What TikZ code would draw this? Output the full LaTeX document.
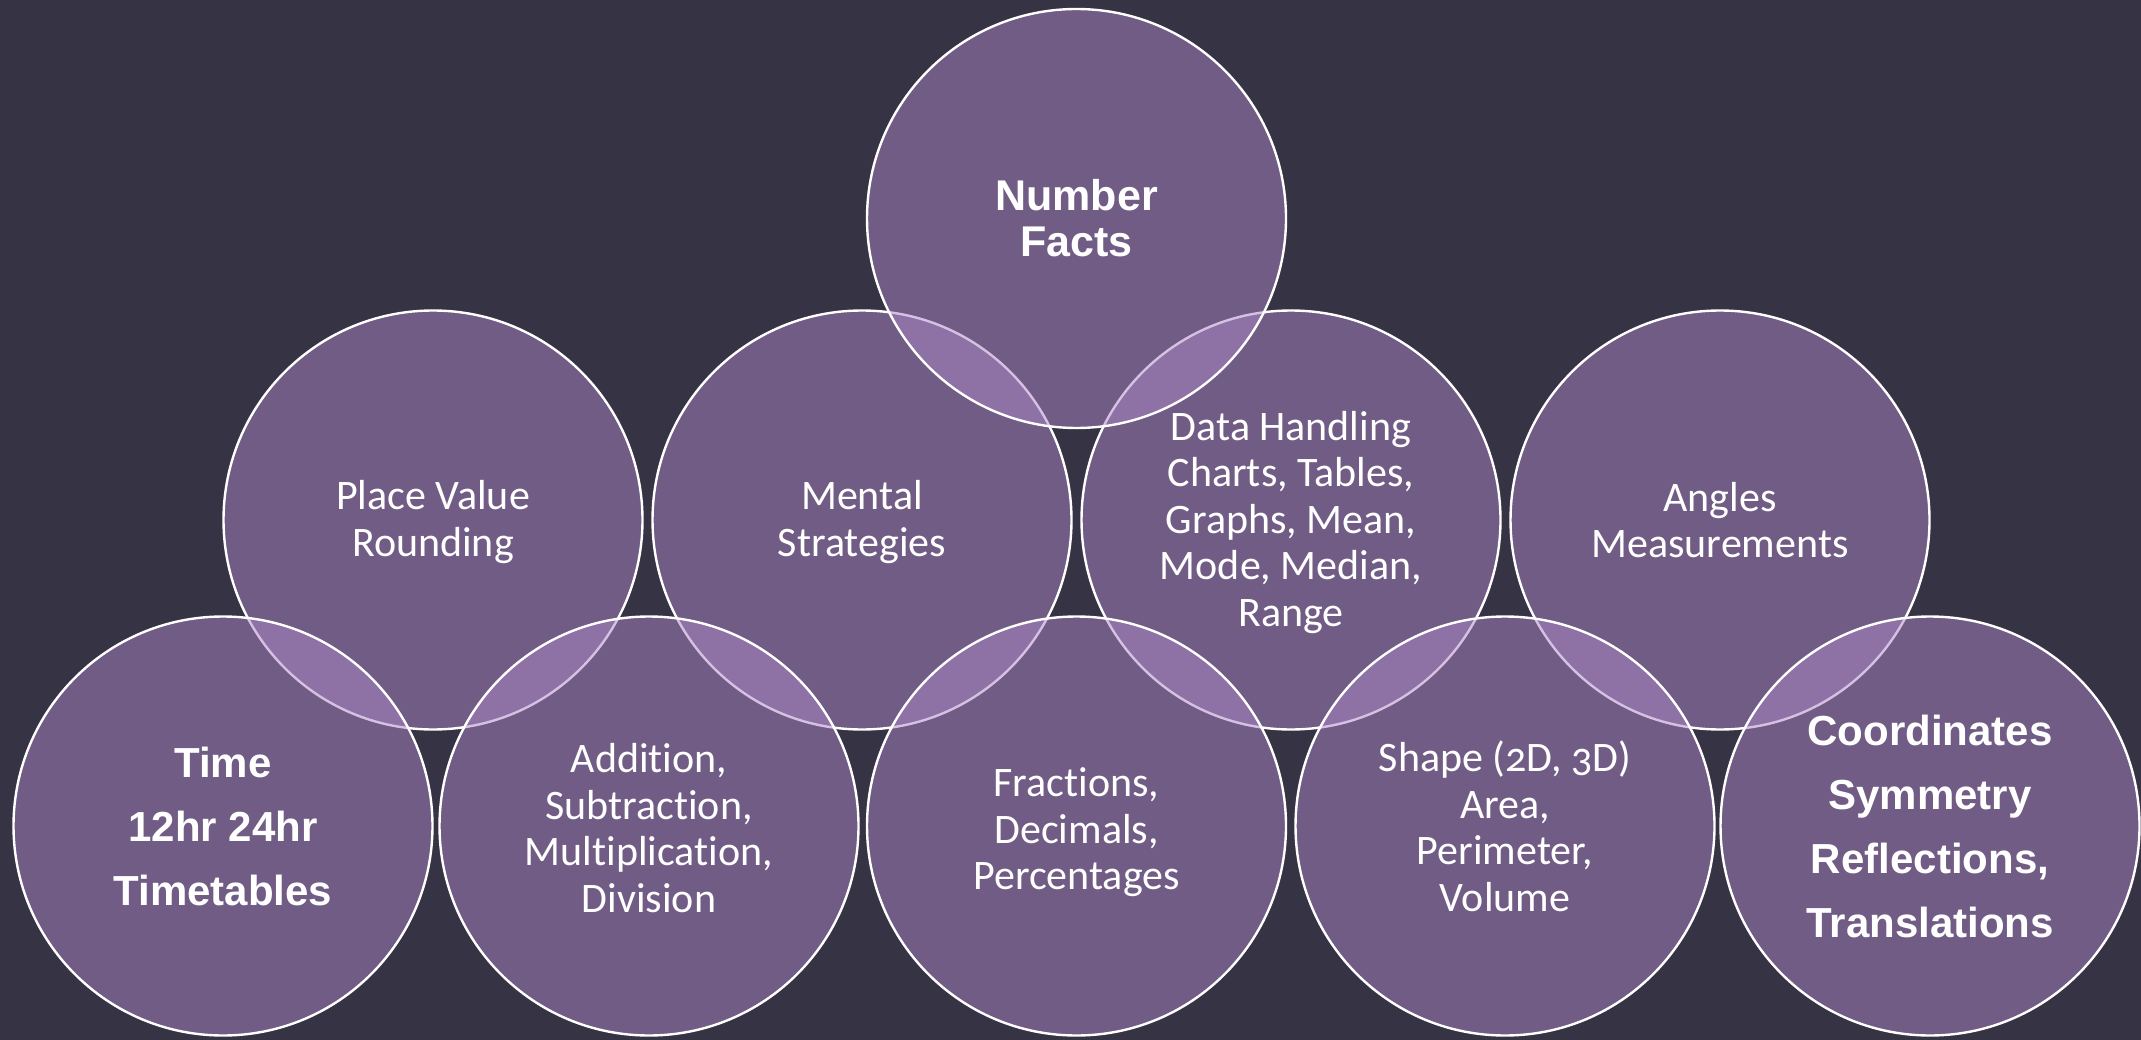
\documentclass[tikz,border=0pt]{standalone}
\usepackage{fontspec}
\setmainfont{Carlito}[Numbers=OldStyle, Ligatures=NoCommon]
\newfontfamily\arialb{Liberation Sans}[BoldFont={* Bold}]
\definecolor{bgc}{HTML}{363344}
\definecolor{circc}{HTML}{AC86C6}
\newcommand{\topstrut}[1]{\rule{0pt}{#1pt}}
\tikzset{
  bubble/.style={circle, minimum size=419pt, inner sep=0pt, draw=white, line width=2.4pt,
    fill=circc, fill opacity=0.5, text opacity=1, text=white, align=center},
  regtext/.style={font=\fontsize{42}{46.5}\selectfont},
  boldtext/.style={font=\arialb\bfseries\fontsize{43}{46}\selectfont},
  boldwide/.style={font=\arialb\bfseries\fontsize{42}{64}\selectfont}
}
\begin{document}
\begin{tikzpicture}[x=1pt,y=-1pt]
\fill[bgc] (0,0) rectangle (2141,1040);
\useasboundingbox (0,0) rectangle (2141,1040);
% middle row
\node[bubble,regtext] (pv) at (433,520) {\topstrut{33.5}Place Value\\Rounding};
\node[bubble,regtext] (ms) at (862,520) {\topstrut{33.5}Mental\\Strategies};
\node[bubble,regtext] (dh) at (1291,520) {\topstrut{33.5}Data Handling\\Charts, Tables,\\Graphs, Mean,\\Mode, Median,\\Range};
\node[bubble,regtext] (an) at (1720,520) {Angles\\Measurements};
% top
\node[bubble,boldtext] (nf) at (1076.5,218.5) {Number\\Facts};
% bottom row
\node[bubble,boldwide] (ti) at (223,826) {Time\\12hr 24hr\\Timetables};
\node[bubble,regtext] (ad) at (649,826) {\topstrut{33.5}Addition,\\Subtraction,\\Multiplication,\\Division};
\node[bubble,regtext] (fr) at (1076.5,826) {\topstrut{41.5}Fractions,\\Decimals,\\Percentages};
\node[bubble,regtext] (sh) at (1505,826) {\topstrut{31}Shape (2D, 3D)\\Area,\\Perimeter,\\Volume};
\node[bubble,boldwide] (co) at (1930,826) {Coordinates\\Symmetry\\Reflections,\\Translations};
\end{tikzpicture}
\end{document}
